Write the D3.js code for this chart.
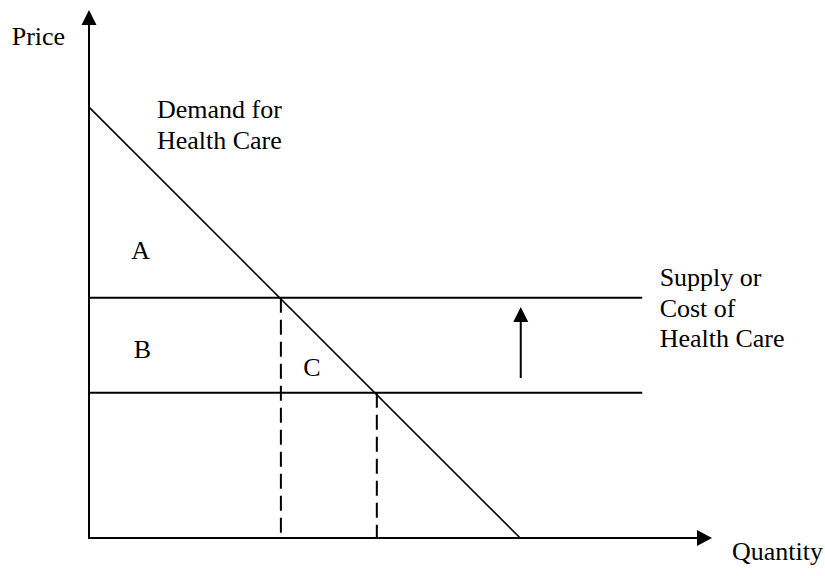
<!DOCTYPE html>
<html>
<head>
<meta charset="utf-8">
<script src="https://cdn.jsdelivr.net/npm/d3@7/dist/d3.min.js"></script>
<style>
  body { margin: 0; background: #fff; }
  svg text { font-family: "Times New Roman", "Liberation Serif", serif; font-size: 26px; fill: #000; }
</style>
</head>
<body>
<div id="chart"></div>
<script>
// demand curve: price intercept and quantity intercept
let demand = [[0, 81.6], [69.2, 0]]
// supply / cost levels (old low, new high)
let supplyLevels = [27.5, 45.5]
let supplyEnd = 88.8
// quantities where demand meets each cost level
let quantities = [30.8, 46.2]
// shift arrow (quantity, from price, to price)
let shiftArrow = [69.3, 30.3, 43.75]
let areaLabels = [
  { text: 'A', q: 6.8, p: 52.8 },
  { text: 'B', q: 7.2, p: 34.1 },
  { text: 'C', q: 34.4, p: 30.7 }
]
let curveLabels = [
  { lines: ['Demand for', 'Health Care'], q: 10.9, p: 79.5 },
  { lines: ['Supply or', 'Cost of', 'Health Care'], q: 91.6, p: 47.7 }
]
let axisLabels = [
  { text: 'Price', q: -12.4, p: 93.4 },
  { text: 'Quantity', q: 103.2, p: -4.2 }
]

let width = 825
let height = 576
let svg = d3.select('#chart').append('svg')
  .attr('width', width)
  .attr('height', height)

let x = d3.scaleLinear().domain([0, 100]).range([89, 712])
let y = d3.scaleLinear().domain([0, 100]).range([538, 10])

let line = d3.line().x(d => x(d[0])).y(d => y(d[1]))

// axes
svg.append('path')
  .attr('d', line([[0, 100 - 2.8], [0, 0], [100 - 2.4, 0]]))
  .attr('fill', 'none')
  .attr('stroke', '#000')
  .attr('stroke-width', 2)
// arrow heads
svg.append('path')
  .attr('d', `M${x(0)},${y(100)} L${x(0) - 7.5},${y(100) + 15} L${x(0) + 7.5},${y(100) + 15} Z`)
  .attr('fill', '#000')
svg.append('path')
  .attr('d', `M${x(100)},${y(0)} L${x(100) - 15},${y(0) - 8} L${x(100) - 15},${y(0) + 8} Z`)
  .attr('fill', '#000')

// supply levels
svg.selectAll('line.supply')
  .data(supplyLevels)
  .enter()
  .append('line')
  .attr('class', 'supply')
  .attr('x1', x(0))
  .attr('x2', x(supplyEnd))
  .attr('y1', d => y(d))
  .attr('y2', d => y(d))
  .attr('stroke', '#000')
  .attr('stroke-width', 2)

// dashed quantity lines
svg.selectAll('line.qty')
  .data(quantities)
  .enter()
  .append('line')
  .attr('class', 'qty')
  .attr('x1', d => x(d))
  .attr('x2', d => x(d))
  .attr('y1', (d, i) => y(supplyLevels[supplyLevels.length - 1 - i]))
  .attr('y2', y(0))
  .attr('stroke', '#000')
  .attr('stroke-width', 2)
  .attr('stroke-dasharray', '15,7')

// demand
svg.append('path')
  .attr('d', line(demand))
  .attr('fill', 'none')
  .attr('stroke', '#000')
  .attr('stroke-width', 1.6)

// shift arrow
let ax = x(shiftArrow[0])
let tip = y(shiftArrow[2])
svg.append('line')
  .attr('x1', ax)
  .attr('x2', ax)
  .attr('y1', y(shiftArrow[1]))
  .attr('y2', tip + 12)
  .attr('stroke', '#000')
  .attr('stroke-width', 2)
svg.append('path')
  .attr('d', `M${ax},${tip} L${ax - 7.5},${tip + 15} L${ax + 7.5},${tip + 15} Z`)
  .attr('fill', '#000')

// labels
svg.selectAll('text.area')
  .data(areaLabels.concat(axisLabels))
  .enter()
  .append('text')
  .attr('x', d => x(d.q))
  .attr('y', d => y(d.p))
  .text(d => d.text)

curveLabels.forEach(function (d) {
  let t = svg.append('text')
    .attr('x', x(d.q))
    .attr('y', y(d.p))
  t.selectAll('tspan')
    .data(d.lines)
    .enter()
    .append('tspan')
    .attr('x', x(d.q))
    .attr('dy', (l, i) => i === 0 ? 0 : 30.5)
    .text(l => l)
})
</script>
</body>
</html>
